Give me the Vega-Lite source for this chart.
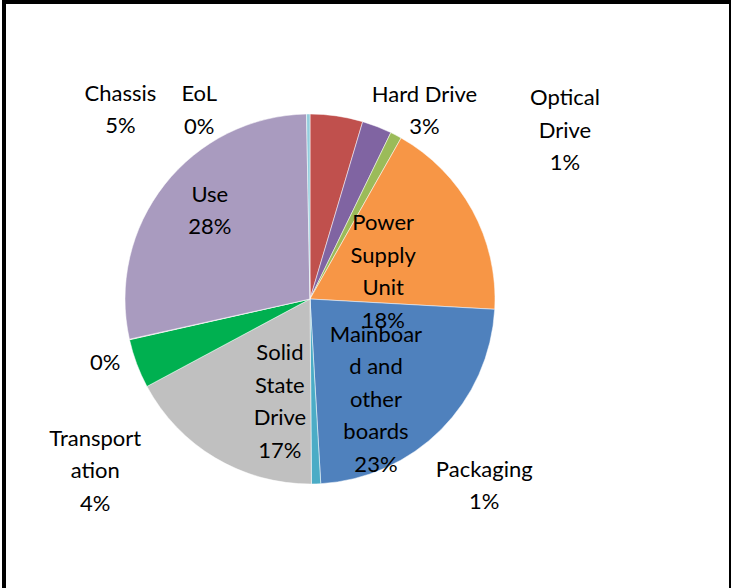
{
  "$schema": "https://vega.github.io/schema/vega-lite/v6.json",
  "width": 727,
  "height": 586,
  "autosize": {"type": "none"},
  "padding": {"left": 4, "top": 2, "right": 0, "bottom": 0},
  "background": "white",
  "view": {"stroke": "black", "strokeWidth": 4, "strokeDash": [1313, 727, 586], "fill": "white"},
  "data": {
    "values": [
      {"idx": 1, "name": "Chassis", "value": 4.6, "label": "Chassis\n5%"},
      {"idx": 2, "name": "Hard Drive", "value": 2.6, "label": "Hard Drive\n3%"},
      {"idx": 3, "name": "Optical Drive", "value": 1.0, "label": "Optical\nDrive\n1%"},
      {"idx": 4, "name": "Power Supply Unit", "value": 17.7, "label": "Power\nSupply\nUnit\n18%"},
      {"idx": 5, "name": "Mainboard and other boards", "value": 23.2, "label": "Mainboar\nd and\nother\nboards\n23%"},
      {"idx": 6, "name": "Packaging", "value": 0.8, "label": "Packaging\n1%"},
      {"idx": 7, "name": "Solid State Drive", "value": 17.3, "label": "Solid\nState\nDrive\n17%"},
      {"idx": 8, "name": "Transportation", "value": 4.3, "label": "Transport\nation\n4%"},
      {"idx": 9, "name": "Unlabelled", "value": 0.05, "label": "0%"},
      {"idx": 10, "name": "Use", "value": 28.2, "label": "Use\n28%"},
      {"idx": 11, "name": "EoL", "value": 0.3, "label": "EoL\n0%"}
    ]
  },
  "encoding": {
    "theta": {"field": "value", "type": "quantitative", "stack": true},
    "order": {"field": "idx", "type": "quantitative"},
    "detail": {"field": "name", "type": "nominal"},
    "x": {"value": 306},
    "y": {"value": 297}
  },
  "layer": [
    {
      "mark": {"type": "arc", "outerRadius": 185, "stroke": "white", "strokeWidth": 0.5},
      "encoding": {
        "color": {
          "field": "name",
          "type": "nominal",
          "legend": null,
          "scale": {
            "domain": ["Chassis", "Hard Drive", "Optical Drive", "Power Supply Unit", "Mainboard and other boards", "Packaging", "Solid State Drive", "Transportation", "Unlabelled", "Use", "EoL"],
            "range": ["#C0504D", "#8064A2", "#9BBB59", "#F79646", "#4F81BD", "#4BACC6", "#C0C0C0", "#00B050", "#E6B9B8", "#A99BBF", "#93CDDD"]
          }
        }
      }
    },
    {
      "mark": {"type": "text", "radius": 190, "dx": -217, "dy": -17, "font": "Lato", "fontSize": 22, "lineBreak": "\n", "lineHeight": 32.5, "baseline": "middle", "align": "center", "color": "black"},
      "encoding": {"text": {"condition": {"test": "datum.name === 'Chassis'", "field": "label"}, "value": ""}}
    },
    {
      "mark": {"type": "text", "radius": 190, "dx": -109, "dy": -15, "font": "Lato", "fontSize": 22, "lineBreak": "\n", "lineHeight": 32.5, "baseline": "middle", "align": "center", "color": "black"},
      "encoding": {"text": {"condition": {"test": "datum.name === 'EoL'", "field": "label"}, "value": ""}}
    },
    {
      "mark": {"type": "text", "radius": 200, "dx": 42, "dy": -18, "font": "Lato", "fontSize": 22, "lineBreak": "\n", "lineHeight": 32.5, "baseline": "middle", "align": "center", "color": "black"},
      "encoding": {"text": {"condition": {"test": "datum.name === 'Hard Drive'", "field": "label"}, "value": ""}}
    },
    {
      "mark": {"type": "text", "radius": 200, "dx": 162, "dy": -23.5, "font": "Lato", "fontSize": 22, "lineBreak": "\n", "lineHeight": 32.5, "baseline": "middle", "align": "center", "color": "black"},
      "encoding": {"text": {"condition": {"test": "datum.name === 'Optical Drive'", "field": "label"}, "value": ""}}
    },
    {
      "mark": {"type": "text", "radius": 80, "dx": 3, "dy": -37.5, "font": "Lato", "fontSize": 22, "lineBreak": "\n", "lineHeight": 32.5, "baseline": "middle", "align": "center", "color": "black"},
      "encoding": {"text": {"condition": {"test": "datum.name === 'Power Supply Unit'", "field": "label"}, "value": ""}}
    },
    {
      "mark": {"type": "text", "radius": 120, "dx": -19, "dy": -49, "font": "Lato", "fontSize": 22, "lineBreak": "\n", "lineHeight": 32.5, "baseline": "middle", "align": "center", "color": "black"},
      "encoding": {"text": {"condition": {"test": "datum.name === 'Mainboard and other boards'", "field": "label"}, "value": ""}}
    },
    {
      "mark": {"type": "text", "radius": 190, "dx": 168, "dy": -19, "font": "Lato", "fontSize": 22, "lineBreak": "\n", "lineHeight": 32.5, "baseline": "middle", "align": "center", "color": "black"},
      "encoding": {"text": {"condition": {"test": "datum.name === 'Packaging'", "field": "label"}, "value": ""}}
    },
    {
      "mark": {"type": "text", "radius": 110, "dx": 26, "dy": -40.5, "font": "Lato", "fontSize": 22, "lineBreak": "\n", "lineHeight": 32.5, "baseline": "middle", "align": "center", "color": "black"},
      "encoding": {"text": {"condition": {"test": "datum.name === 'Solid State Drive'", "field": "label"}, "value": ""}}
    },
    {
      "mark": {"type": "text", "radius": 210, "dx": -18, "dy": 66.5, "font": "Lato", "fontSize": 22, "lineBreak": "\n", "lineHeight": 32.5, "baseline": "middle", "align": "center", "color": "black"},
      "encoding": {"text": {"condition": {"test": "datum.name === 'Transportation'", "field": "label"}, "value": ""}}
    },
    {
      "mark": {"type": "text", "radius": 210, "dx": 0, "dy": 18, "font": "Lato", "fontSize": 22, "lineBreak": "\n", "lineHeight": 32.5, "baseline": "middle", "align": "center", "color": "black"},
      "encoding": {"text": {"condition": {"test": "datum.name === 'Unlabelled'", "field": "label"}, "value": ""}}
    },
    {
      "mark": {"type": "text", "radius": 130, "dx": 2, "dy": -24, "font": "Lato", "fontSize": 22, "lineBreak": "\n", "lineHeight": 32.5, "baseline": "middle", "align": "center", "color": "black"},
      "encoding": {"text": {"condition": {"test": "datum.name === 'Use'", "field": "label"}, "value": ""}}
    }
  ]
}
